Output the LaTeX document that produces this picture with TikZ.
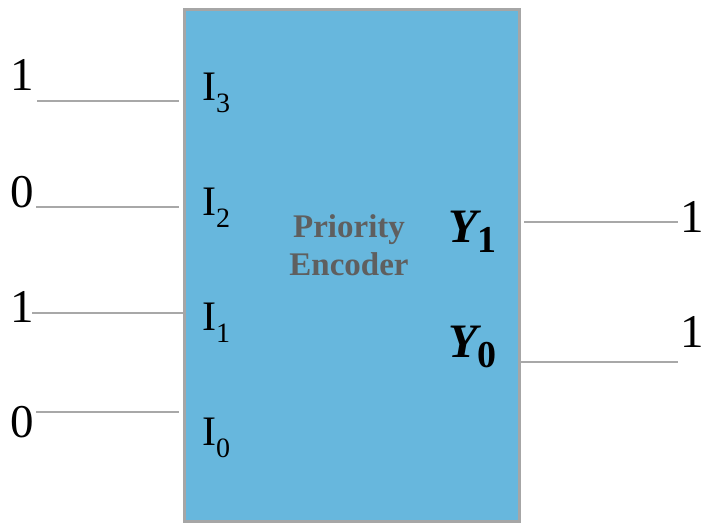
\documentclass[tikz,border=0pt]{standalone}
\usepackage{fontspec}
\setmainfont{Liberation Serif}
\definecolor{boxfill}{RGB}{103,183,221}
\definecolor{boxline}{RGB}{166,166,166}
\definecolor{wiregray}{RGB}{168,168,168}
\definecolor{titlegray}{RGB}{95,95,95}
\tikzset{
  wire/.style={draw=wiregray, line width=2pt},
  bit/.style={inner sep=0pt, anchor=base, font=\fontsize{47}{47}\selectfont},
  inlab/.style={inner sep=0pt, anchor=base west, font=\fontsize{42}{42}\selectfont},
  outlab/.style={inner sep=0pt, anchor=base west, font=\fontsize{48}{48}\selectfont\bfseries\itshape},
  title/.style={inner sep=0pt, anchor=base, text=titlegray, font=\fontsize{33}{33}\selectfont\bfseries},
}
\newcommand{\insub}[1]{\raisebox{-12pt}{\fontsize{28}{28}\selectfont #1}}
\newcommand{\outsub}[1]{\raisebox{-10pt}{\fontsize{38}{38}\selectfont\upshape\bfseries #1}}
\begin{document}
\begin{tikzpicture}[x=1pt,y=-1pt]
\useasboundingbox (0,0) rectangle (704,522);
\node[draw=boxline, fill=boxfill, line width=3.4pt, minimum width=335.4pt, minimum height=512pt, inner sep=0pt] (box) at (352,265.5) {};
% title
\node[title] (t1) at (349,237) {Priority};
\node[title] (t2) at (349,275) {Encoder};
% input labels
\node[inlab] (i3) at (202,100) {I\insub{3}};
\node[inlab] (i2) at (202,215) {I\insub{2}};
\node[inlab] (i1) at (202,330) {I\insub{1}};
\node[inlab] (i0) at (202,445) {I\insub{0}};
% output labels
\node[outlab] (y1) at (448,242) {Y\outsub{1}};
\node[outlab] (y0) at (448,357) {Y\outsub{0}};
% input values
\node[bit] (v3) at (22.5,90) {1};
\node[bit] (v2) at (22.5,207) {0};
\node[bit] (v1) at (22.5,322) {1};
\node[bit] (v0) at (22.5,437) {0};
% output values
\node[bit] (w1) at (692,232) {1};
\node[bit] (w0) at (692,347) {1};
% wire ends
\coordinate (a3) at (37,101);  \coordinate (b3) at (179,101);
\coordinate (a2) at (36,207);  \coordinate (b2) at (179,207);
\coordinate (a1) at (32,313);  \coordinate (b1) at (183,313);
\coordinate (a0) at (36,412);  \coordinate (b0) at (179,412);
\coordinate (c1) at (524,222); \coordinate (d1) at (678,222);
\coordinate (c0) at (520,362); \coordinate (d0) at (678,362);
\draw[wire] (a3) -- (b3);
\draw[wire] (a2) -- (b2);
\draw[wire] (a1) -- (b1);
\draw[wire] (a0) -- (b0);
\draw[wire] (c1) -- (d1);
\draw[wire] (c0) -- (d0);
\end{tikzpicture}
\end{document}
